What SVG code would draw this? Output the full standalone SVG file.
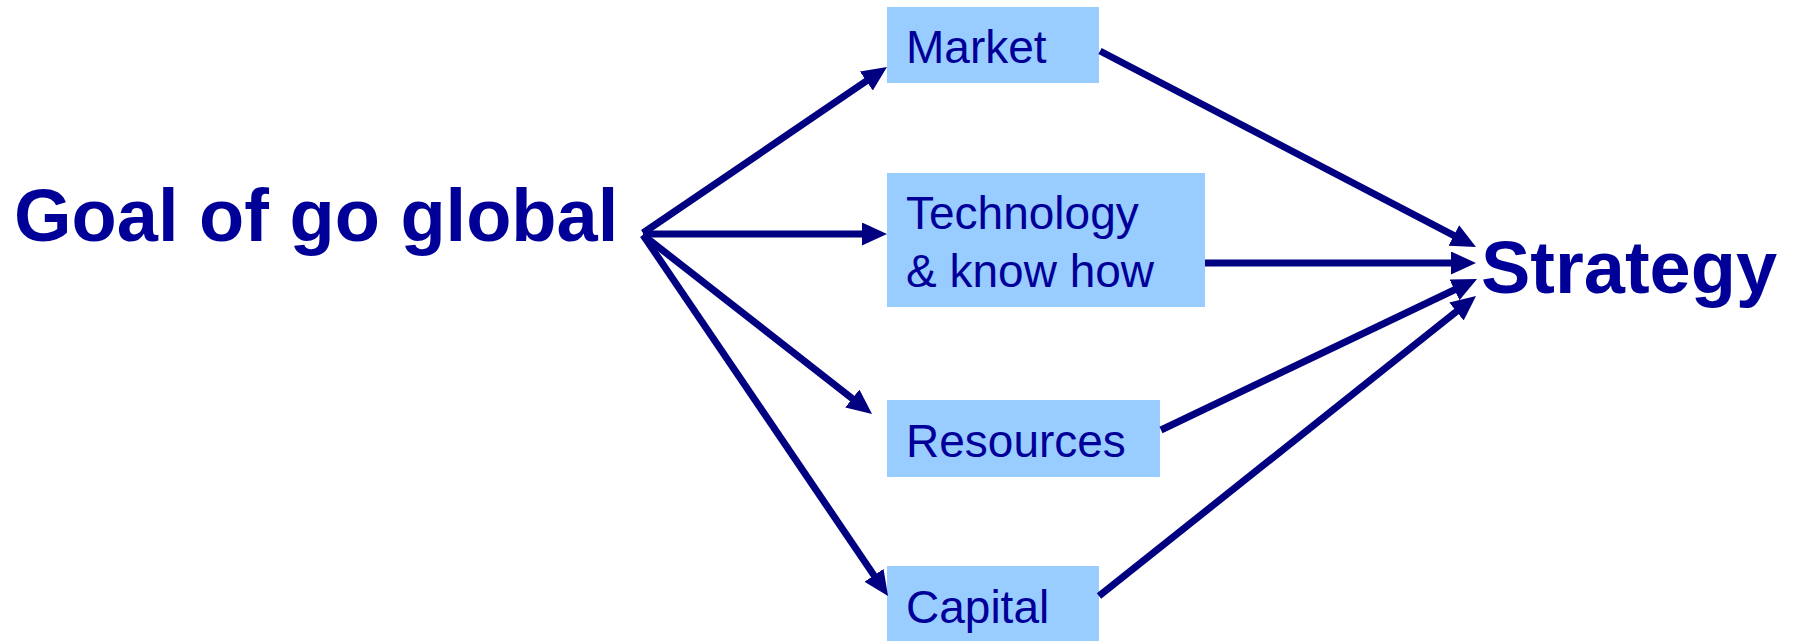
<svg xmlns="http://www.w3.org/2000/svg" width="1793" height="641" viewBox="0 0 1793 641">
<style>
.box{fill:#99CCFF;}
.lbl{font-family:"Liberation Sans",Arial,sans-serif;font-size:46px;fill:#000099;}
.big{font-family:"Liberation Sans",Arial,sans-serif;font-size:74px;font-weight:bold;fill:#000099;}
.conn{stroke:#000080;stroke-width:7;fill:none;marker-end:url(#ah);}
</style>
<defs>
<marker id="ah" markerUnits="userSpaceOnUse" markerWidth="26" markerHeight="24" refX="10" refY="11.5" orient="auto">
<path d="M0,0 L25,11.5 L0,23 z" fill="#000080"/>
</marker>
</defs>
<rect width="1793" height="641" fill="#ffffff"/>
<g id="goal"><text class="big" x="14" y="241">Goal of go global</text></g>
<g id="strategy"><text class="big" x="1481" y="293">Strategy</text></g>
<g id="market"><rect class="box" x="887" y="7" width="212" height="76"/><text class="lbl" x="906" y="63">Market</text></g>
<g id="technology"><rect class="box" x="887" y="173" width="318" height="134"/><text class="lbl" x="906" y="229">Technology</text><text class="lbl" x="906" y="287">&amp; know how</text></g>
<g id="resources"><rect class="box" x="887" y="400" width="273" height="77"/><text class="lbl" x="906" y="457">Resources</text></g>
<g id="capital"><rect class="box" x="887" y="566" width="212" height="75"/><text class="lbl" x="906" y="623">Capital</text></g>
<g id="connectors">
<line class="conn" x1="643" y1="233" x2="874.6" y2="75.4"/>
<line class="conn" x1="643" y1="234" x2="872" y2="234"/>
<line class="conn" x1="643" y1="235" x2="860.2" y2="404.7"/>
<line class="conn" x1="643" y1="235" x2="879.6" y2="583.6"/>
<line class="conn" x1="1100" y1="51" x2="1462.7" y2="240.1"/>
<line class="conn" x1="1205" y1="263" x2="1461" y2="263"/>
<line class="conn" x1="1161" y1="430" x2="1463.5" y2="285.5"/>
<line class="conn" x1="1099" y1="596" x2="1464.3" y2="305.3"/>
</g>
</svg>
